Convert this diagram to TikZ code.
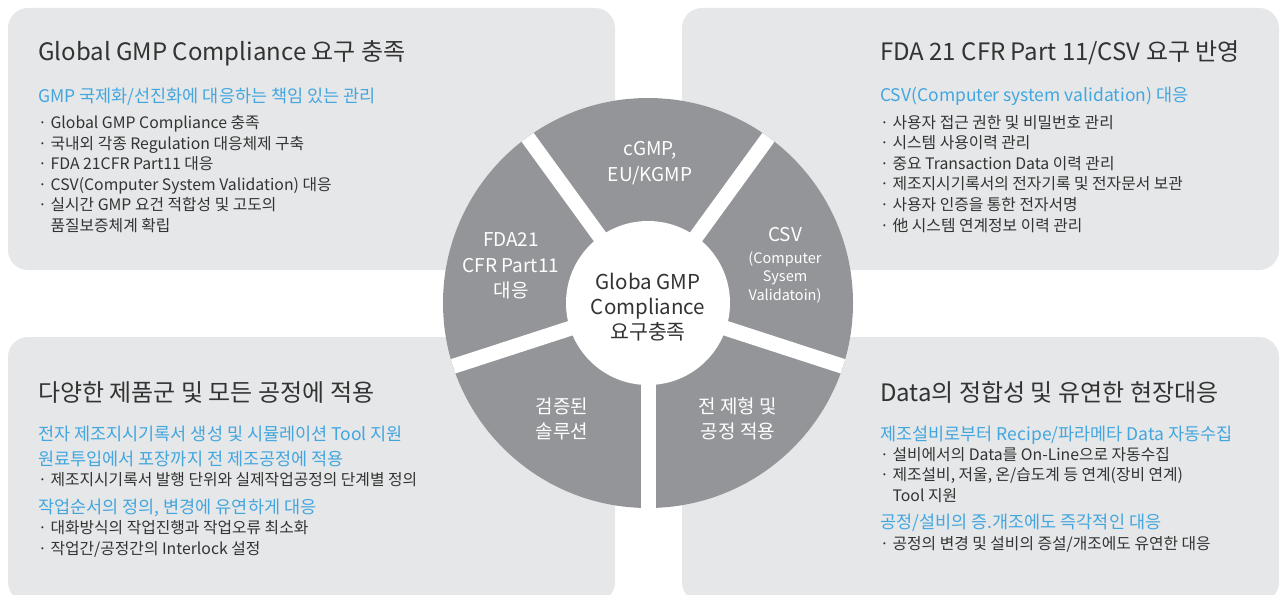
\documentclass[tikz,border=0pt]{standalone}
\usepackage{fontspec}
\setmainfont{Noto Sans CJK KR}
\definecolor{panelgray}{HTML}{E6E7E8}
\definecolor{wheelgray}{HTML}{939598}
\definecolor{txtdark}{HTML}{333333}
\definecolor{headblue}{HTML}{43A6DF}
\tikzset{
  panel/.style={fill=panelgray, rounded corners=20pt},
  ptitle/.style={anchor=base west, inner sep=0pt, text=txtdark, font=\fontsize{24}{28}\selectfont},
  phead/.style={anchor=base west, inner sep=0pt, text=headblue, align=left, font=\fontsize{17.5}{25}\selectfont},
  pitem/.style={anchor=base west, inner sep=0pt, text=txtdark, align=left, font=\fontsize{15.8}{20.6}\selectfont},
  seglabel/.style={align=center, text=white, inner sep=0pt, font=\fontsize{19}{25.5}\selectfont},
  hub/.style={align=center, text=txtdark, inner sep=0pt, font=\fontsize{20.5}{25}\selectfont},
  gap/.style={white, line width=15pt},
}
\begin{document}
\begin{tikzpicture}[x=1pt,y=-1pt]
\useasboundingbox (0,0) rectangle (1287,594);
% panels
\fill[panel] (8,8) rectangle (615,270);
\fill[panel] (682,8) rectangle (1279,270);
\fill[panel] (8,337) rectangle (615,602);
\fill[panel] (682,337) rectangle (1279,602);
% wheel
\coordinate (c) at (648,303);
\fill[wheelgray] (c) circle[radius=205];
\begin{scope}
  \clip (c) circle[radius=205];
  \foreach \a in {90,18,-54,-126,162} \draw[gap] (c) -- ++(\a:230);
\end{scope}
\fill[white] (c) circle[radius=82];
% wheel labels
\node[hub] (hubtxt) at (648,307) {Globa GMP\\Compliance\\요구충족};
\node[seglabel] (s1) at (650,163) {cGMP,\\EU/KGMP};
\node[seglabel, font=\fontsize{14.5}{18.3}\selectfont] (s2) at (785,265) {\fontsize{19}{18.3}\selectfont CSV\\[4pt]\fontsize{14.5}{18.3}\selectfont (Computer\\Sysem\\Validatoin)};
\node[seglabel] (s3) at (738,419) {전 제형 및\\공정 적용};
\node[seglabel] (s4) at (562,419) {검증된\\솔루션};
\node[seglabel] (s5) at (511,266) {FDA21\\CFR Part11\\대응};
% top-left panel text (base anchor = last line)
\node[ptitle] (tlt) at (38,61) {Global GMP Compliance 요구 충족};
\node[phead] (tlh) at (38,102) {GMP 국제화/선진화에 대응하는 책임 있는 관리};
\node[pitem] (tli) at (38,231.5) {· Global GMP Compliance 충족\\· 국내외 각종 Regulation 대응체제 구축\\· FDA 21CFR Part11 대응\\· CSV(Computer System Validation) 대응\\· 실시간 GMP 요건 적합성 및 고도의\\\phantom{· }품질보증체계 확립};
% top-right panel text
\node[ptitle] (trt) at (880,61) {FDA 21 CFR Part 11/CSV 요구 반영};
\node[phead] (trh) at (880,101) {CSV(Computer system validation) 대응};
\node[pitem] (tri) at (880,231) {· 사용자 접근 권한 및 비밀번호 관리\\· 시스템 사용이력 관리\\· 중요 Transaction Data 이력 관리\\· 제조지시기록서의 전자기록 및 전자문서 보관\\· 사용자 인증을 통한 전자서명\\· 他 시스템 연계정보 이력 관리};
% bottom-left panel text
\node[ptitle] (blt) at (38,401) {다양한 제품군 및 모든 공정에 적용};
\node[phead] (blh1) at (38,465) {전자 제조지시기록서 생성 및 시뮬레이션 Tool 지원\\원료투입에서 포장까지 전 제조공정에 적용};
\node[pitem] (bli1) at (38,485.5) {· 제조지시기록서 발행 단위와 실제작업공정의 단계별 정의};
\node[phead] (blh2) at (38,513) {작업순서의 정의, 변경에 유연하게 대응};
\node[pitem] (bli2) at (38,554.5) {· 대화방식의 작업진행과 작업오류 최소화\\· 작업간/공정간의 Interlock 설정};
% bottom-right panel text
\node[ptitle] (brt) at (880,401) {Data의 정합성 및 유연한 현장대응};
\node[phead] (brh1) at (880,440) {제조설비로부터 Recipe/파라메타 Data 자동수집};
\node[pitem] (bri1) at (880,501.5) {· 설비에서의 Data를 On-Line으로 자동수집\\· 제조설비, 저울, 온/습도계 등 연계(장비 연계)\\\phantom{· }Tool 지원};
\node[phead] (brh2) at (880,528) {공정/설비의 증.개조에도 즉각적인 대응};
\node[pitem] (bri2) at (880,549) {· 공정의 변경 및 설비의 증설/개조에도 유연한 대응};
\end{tikzpicture}
\end{document}
